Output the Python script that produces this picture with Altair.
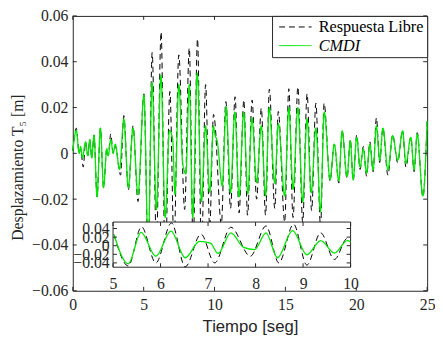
import altair as alt
import pandas as pd

# ---------------- data ----------------
series_names = ["Respuesta Libre", "CMDI"]

t_libre = [0.0, 0.25, 0.45, 0.55, 0.74, 0.9, 1.06, 1.2, 1.34, 1.5, 1.71, 1.95, 2.17, 2.4, 2.5,
           2.68, 2.85, 3.0, 3.37, 3.6, 3.92, 4.25, 4.6, 5.02, 5.32, 5.6, 5.9, 6.23, 6.52, 6.85,
           7.14, 7.48, 7.89, 8.22, 8.49, 8.8, 9.08, 9.37, 9.66, 9.93, 10.0, 10.48, 10.8, 11.13,
           11.45, 11.73, 12.07, 12.33, 12.65, 12.97, 13.3, 13.6, 13.87, 14.25, 14.5, 14.95, 15.24,
           15.54, 15.88, 16.22, 16.53, 16.85, 17.15, 17.48, 17.73, 18.15, 18.45, 18.77, 19.0,
           19.35, 19.58, 19.78, 20.03, 20.27, 20.5, 20.73, 20.96, 21.19, 21.42, 21.65, 21.88,
           22.23, 22.57, 22.92, 23.27, 23.5, 23.85, 24.08, 24.3, 24.7, 25.0]
v_libre = [0.001, 0.011, 0.0, 0.002, -0.006, 0.005, -0.001, 0.006, -0.002, 0.008, -0.019, 0.011,
           -0.015, 0.002, -0.001, 0.0085, 0.0, 0.003, -0.0095, 0.0165, -0.016, 0.012, -0.021,
           0.026, -0.047, 0.044, -0.040, 0.053, -0.049, 0.027, -0.040, 0.043, -0.0245, 0.046,
           -0.040, 0.050, -0.045, 0.030, -0.032, 0.017, 0.015, -0.031, 0.0226, -0.024, 0.0247,
           -0.026, 0.0233, -0.027, 0.0233, -0.020, 0.0197, -0.027, 0.028, -0.024, 0.0183,
           -0.030, 0.0282, -0.028, 0.029, -0.030, 0.026, -0.025, 0.0219, -0.032, 0.0219,
           -0.012, 0.004, -0.013, 0.010, -0.011, 0.006, -0.012, 0.008, -0.007, 0.003, -0.010,
           0.005, -0.008, 0.0155, -0.004, 0.011, -0.0095, 0.008, -0.004, 0.010, -0.006, 0.007,
           -0.008, 0.009, -0.019, 0.014]

t_cmdi = [0.0, 0.25, 0.45, 0.55, 0.68, 0.9, 1.06, 1.2, 1.34, 1.5, 1.71, 1.95, 2.17, 2.4, 2.5,
          2.68, 2.85, 3.0, 3.3, 3.6, 3.92, 4.25, 4.6, 5.02, 5.32, 5.59, 5.9, 6.22, 6.52, 6.82,
          7.05, 7.21, 7.48, 7.75, 7.98, 8.22, 8.46, 8.78, 9.08, 9.37, 9.66, 9.93, 10.0, 10.2,
          10.55, 10.82, 11.13, 11.43, 11.73, 12.06, 12.35, 12.64, 12.97, 13.3, 13.6, 13.86,
          14.25, 14.5, 14.95, 15.24, 15.54, 15.88, 16.22, 16.53, 16.82, 17.15, 17.48, 17.74,
          18.15, 18.45, 18.77, 19.0, 19.35, 19.58, 19.78, 20.03, 20.27, 20.5, 20.73, 20.96,
          21.19, 21.42, 21.65, 21.88, 22.23, 22.57, 22.92, 23.27, 23.5, 23.85, 24.08, 24.3,
          24.7, 25.0]
v_cmdi = [0.001, 0.010, 0.0, 0.003, -0.002, 0.005, -0.001, 0.006, -0.002, 0.008, -0.019, 0.011,
          -0.015, 0.002, -0.001, 0.006, 0.0, 0.004, -0.007, 0.015, -0.015, 0.011, -0.018,
          0.0255, -0.042, 0.031, -0.0245, 0.034, -0.028, 0.010, 0.006, -0.018, 0.030, -0.004,
          -0.009, 0.030, -0.028, 0.035, -0.021, 0.012, -0.017, 0.012, 0.009, 0.005, -0.0143,
          0.0204, -0.0172, 0.018, -0.019, 0.018, -0.0177, 0.0155, -0.0128, 0.012, -0.0186,
          0.020, -0.013, 0.013, -0.0186, 0.020, -0.0157, 0.020, -0.0213, 0.015, -0.0172,
          0.011, -0.0255, 0.018, -0.0115, 0.004, -0.012, 0.0098, -0.010, 0.0055, -0.0115,
          0.007, -0.006, 0.002, -0.0086, 0.004, -0.0072, 0.012, -0.003, 0.011, -0.0072,
          0.0077, -0.003, 0.0098, -0.0044, 0.007, -0.0072, 0.0084, -0.0186, 0.014]

x_ticks = [0, 5, 10, 15, 20, 25]
y_ticks = [-0.06, -0.04, -0.02, 0, 0.02, 0.04, 0.06]
inset_x_ticks = [5, 6, 7, 8, 9, 10]
inset_y_ticks = [-0.04, -0.02, 0, 0.02, 0.04]
inset_x_domain = [5, 10]
inset_y_domain = [-0.05, 0.055]

# ---------------- layout constants ----------------
W, H = 361, 280
INSET_X_RANGE = [41, 283]
INSET_Y_RANGE = [256, 210]
AX = "#262626"
SERIF = "Liberation Serif"
GREEN = "#00e600"

df_l = pd.DataFrame({"t": t_libre, "v": v_libre, "serie": series_names[0]})
df_c = pd.DataFrame({"t": t_cmdi, "v": v_cmdi, "serie": series_names[1]})
df_l_in = df_l[(df_l.t >= inset_x_domain[0]) & (df_l.t <= inset_x_domain[1])]
df_c_in = df_c[(df_c.t >= inset_x_domain[0]) & (df_c.t <= inset_x_domain[1])]

lbl_expr = "datum.value == 0 ? '0' : format(datum.value, '.2f')"

x_axis = alt.Axis(values=x_ticks, tickSize=0, domain=False, grid=False, labelFlush=False,
                  labelFont=SERIF, labelFontSize=16, labelColor=AX, labelPadding=6,
                  title="Tiempo [seg]", titleFont="Liberation Sans", titleFontSize=17,
                  titleFontWeight="normal", titleColor=AX, titleY=41,
                  titleBaseline="alphabetic")
y_axis = alt.Axis(values=y_ticks, tickSize=0, domain=False, grid=False, labelFlush=False,
                  labelFont=SERIF, labelFontSize=16, labelColor=AX, labelPadding=5,
                  labelExpr=lbl_expr,
                  title="Desplazamiento T₅ [m]", titleFont=SERIF, titleFontSize=16,
                  titleFontWeight="normal", titleColor=AX, titleX=-56, titleY=H / 2 + 14,
                  titleAngle=270, titleAlign="center", titleBaseline="middle")

xs = alt.Scale(domain=[0, 25], nice=False, zero=False)
ys = alt.Scale(domain=[-0.06, 0.06], nice=False, zero=False)
X = alt.X("t:Q", scale=xs, axis=x_axis)
Y = alt.Y("v:Q", scale=ys, axis=y_axis)

legend = alt.Legend(title=None, orient="top-right", offset=0, padding=3,
                    strokeColor=AX, fillColor="white", cornerRadius=0,
                    symbolType="M-1,0H7.25", symbolSize=64, symbolStrokeWidth=1,
                    labelFont=SERIF, labelFontSize=16.5, labelColor="black", labelOffset=28,
                    labelLimit=300, rowPadding=2,
                    labelFontStyle={"expr": "datum.label == 'CMDI' ? 'italic' : 'normal'"})
color = alt.Color("serie:N", scale=alt.Scale(domain=series_names, range=["black", GREEN]),
                  legend=legend)
dash = alt.StrokeDash("serie:N", scale=alt.Scale(domain=series_names, range=[[6, 4], [1, 0]]),
                      legend=legend)

main_black = alt.Chart(df_l).mark_line(strokeWidth=1, interpolate="monotone").encode(
    x=X, y=Y, color=color, strokeDash=dash)
main_green = alt.Chart(df_c).mark_line(strokeWidth=1.3, interpolate="monotone").encode(
    x=X, y=Y, color=color, strokeDash=dash)

ydf = pd.DataFrame({"v": y_ticks})
xdf = pd.DataFrame({"t": x_ticks})
tick_l = alt.Chart(ydf).mark_rule(color=AX).encode(y=Y, x=alt.value(0), x2=alt.value(4))
tick_r = alt.Chart(ydf).mark_rule(color=AX).encode(y=Y, x=alt.value(W - 4), x2=alt.value(W))
tick_b = alt.Chart(xdf).mark_rule(color=AX).encode(x=X, y=alt.value(H - 4), y2=alt.value(H))
tick_t = alt.Chart(xdf).mark_rule(color=AX).encode(x=X, y=alt.value(0), y2=alt.value(4))

main = alt.layer(main_black, main_green, tick_l, tick_r, tick_b, tick_t)

# ---------------- inset ----------------
ix_axis = alt.Axis(values=inset_x_ticks, orient="bottom", offset=-(H - INSET_Y_RANGE[0]),
                   tickSize=0, domain=False, grid=False, labelFlush=False,
                   labelFont=SERIF, labelFontSize=16, labelColor=AX, labelPadding=9,
                   title=None, zindex=1)
iy_axis = alt.Axis(values=inset_y_ticks, orient="left", offset=-INSET_X_RANGE[0],
                   tickSize=0, domain=False, grid=False, labelFlush=False, labelOverlap=False,
                   labelFont=SERIF, labelFontSize=16, labelColor=AX, labelPadding=4,
                   labelExpr=lbl_expr, title=None, zindex=1)
IX = alt.X("t:Q", scale=alt.Scale(domain=inset_x_domain, range=INSET_X_RANGE, nice=False,
                                  zero=False), axis=ix_axis)
IY = alt.Y("v:Q", scale=alt.Scale(domain=inset_y_domain, range=INSET_Y_RANGE, nice=False,
                                  zero=False), axis=iy_axis)

box_df = pd.DataFrame({"t": [inset_x_domain[0]], "t2": [inset_x_domain[1]],
                       "v": [inset_y_domain[0]], "v2": [inset_y_domain[1]]})
inset_box = alt.Chart(box_df).mark_rect(fill="white", stroke=AX, strokeWidth=1).encode(
    x=IX, x2="t2:Q", y=IY, y2="v2:Q")
inset_black = alt.Chart(df_l_in).mark_line(color="black", strokeWidth=1, strokeDash=[6, 4],
                                           interpolate="monotone").encode(x=IX, y=IY)
inset_green = alt.Chart(df_c_in).mark_line(color=GREEN, strokeWidth=1.3,
                                           interpolate="monotone").encode(x=IX, y=IY)
iydf = pd.DataFrame({"v": inset_y_ticks})
ixdf = pd.DataFrame({"t": inset_x_ticks})
itick_l = alt.Chart(iydf).mark_rule(color=AX).encode(
    y=IY, x=alt.value(INSET_X_RANGE[0]), x2=alt.value(INSET_X_RANGE[0] + 4))
itick_r = alt.Chart(iydf).mark_rule(color=AX).encode(
    y=IY, x=alt.value(INSET_X_RANGE[1] - 4), x2=alt.value(INSET_X_RANGE[1]))
itick_b = alt.Chart(ixdf).mark_rule(color=AX).encode(
    x=IX, y=alt.value(INSET_Y_RANGE[0] - 4), y2=alt.value(INSET_Y_RANGE[0]))
itick_t = alt.Chart(ixdf).mark_rule(color=AX).encode(
    x=IX, y=alt.value(INSET_Y_RANGE[1]), y2=alt.value(INSET_Y_RANGE[1] + 4))

inset = alt.layer(inset_box, inset_black, inset_green, itick_l, itick_r, itick_b, itick_t)

chart = alt.layer(main, inset).resolve_scale(x="independent", y="independent").properties(
    width=W, height=H,
    autosize=alt.AutoSizeParams(type="none"),
    padding={"left": 66, "top": 5, "right": 8, "bottom": 43},
    background="white",
).configure_view(stroke=AX, strokeWidth=1)

chart.save("out.html", embed_options={"renderer": "svg", "actions": False})
